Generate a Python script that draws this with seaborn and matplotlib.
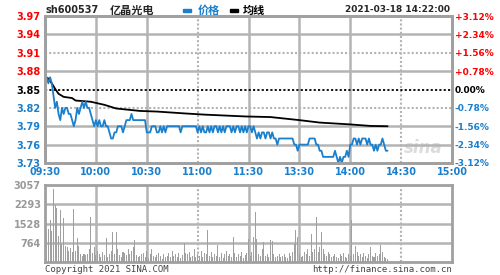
import matplotlib
matplotlib.use("Agg")
import matplotlib.pyplot as plt
import seaborn as sns
import numpy as np
import pandas as pd

# ---------------- data ----------------
code = "sh600537"
name = "亿晶光电"
stamp = "2021-03-18 14:22:00"
prev_close = 3.85

price = [
    3.87, 3.87, 3.86, 3.87, 3.86, 3.84, 3.82, 3.83, 3.81, 3.80,
    3.82, 3.81, 3.82, 3.82, 3.81, 3.81, 3.80, 3.79, 3.80, 3.82,
    3.81, 3.82, 3.83, 3.82, 3.83, 3.82, 3.82, 3.81, 3.80, 3.79,
    3.80, 3.79, 3.80, 3.79, 3.79, 3.80, 3.79, 3.79, 3.78, 3.77,
    3.77, 3.78, 3.78, 3.79, 3.79, 3.79, 3.78, 3.79, 3.80, 3.80,
    3.80, 3.81, 3.80, 3.80, 3.80, 3.80, 3.80, 3.80, 3.80, 3.80,
    3.78, 3.78, 3.78, 3.79, 3.79, 3.79, 3.78, 3.78, 3.79, 3.78,
    3.79, 3.78, 3.79, 3.79, 3.79, 3.79, 3.79, 3.79, 3.79, 3.79,
    3.78, 3.79, 3.79, 3.79, 3.79, 3.79, 3.79, 3.79, 3.79, 3.79,
    3.78, 3.79, 3.78, 3.79, 3.78, 3.78, 3.79, 3.78, 3.79, 3.78,
    3.79, 3.79, 3.78, 3.79, 3.78, 3.79, 3.78, 3.79, 3.79, 3.79,
    3.78, 3.79, 3.78, 3.79, 3.79, 3.78, 3.79, 3.78, 3.79, 3.78,
    3.79,
    3.79, 3.78, 3.79, 3.78, 3.77, 3.78, 3.77, 3.78, 3.78, 3.77,
    3.78, 3.78, 3.77, 3.78, 3.77, 3.77, 3.76, 3.77, 3.77, 3.77,
    3.77, 3.77, 3.77, 3.77, 3.77, 3.77, 3.76, 3.76, 3.75, 3.76,
    3.76, 3.76, 3.76, 3.76, 3.76, 3.77, 3.77, 3.77, 3.77, 3.76,
    3.76, 3.75, 3.75, 3.74, 3.74, 3.74, 3.74, 3.74, 3.74, 3.74,
    3.75, 3.74, 3.73, 3.74, 3.73, 3.74, 3.74, 3.75, 3.74, 3.76,
    3.76, 3.77, 3.77, 3.76, 3.77, 3.76, 3.77, 3.77, 3.77, 3.76,
    3.77, 3.76, 3.76, 3.75, 3.76, 3.75, 3.76, 3.76, 3.77, 3.76, 3.75, 3.75,
]

avg_minutes = [0, 2, 4, 6, 8, 11, 16, 18, 27, 35, 42, 56, 66, 82, 94, 118, 133, 150, 162, 180, 192, 202]
avg_values = [3.870, 3.868, 3.860, 3.851, 3.843, 3.838, 3.836, 3.832, 3.830, 3.825, 3.819,
              3.815, 3.814, 3.811, 3.809, 3.806, 3.805, 3.800, 3.796, 3.793, 3.7905, 3.790]

volume = [
    900, 1150, 1300, 1650, 1250, 2900, 2250, 2150, 1050, 2060,
    700, 1750, 650, 600, 420, 550, 380, 2090, 450, 940,
    620, 300, 250, 330, 280, 300, 500, 1770, 350, 600,
    280, 450, 320, 200, 380, 260, 940, 180, 300, 420,
    1200, 300, 1200, 520, 260, 180, 400, 350, 280, 500,
    330, 450, 600, 870, 260, 180, 220, 300, 350, 200,
    430, 150, 300, 500, 220, 180, 280, 350, 250, 130,
    300, 200, 250, 350, 180, 420, 250, 300, 200, 350,
    150, 280, 750, 350, 300, 400, 200, 250, 500, 200,
    300, 250, 450, 180, 350, 300, 1270, 250, 400, 180,
    300, 250, 680, 200, 350, 150, 300, 450, 250, 300,
    200, 1000, 350, 200, 300, 250, 400, 150, 280, 350,
    900,
    250, 400, 1000, 2000, 900, 300, 250, 500, 800, 250,
    300, 200, 870, 850, 300, 200, 250, 300, 180, 250,
    300, 200, 150, 350, 250, 400, 700, 1270, 1000, 300,
    200, 250, 400, 300, 500, 250, 1130, 400, 500, 1800,
    400, 600, 1200, 500, 300, 250, 400, 300, 200, 250,
    300, 200, 150, 300, 250, 350, 200, 150, 300, 250,
    1670, 300, 650, 400, 250, 300, 200, 350, 250, 150,
    300, 600, 250, 200, 350, 250, 300, 680, 400, 200, 150, 100,
]

time_labels = ["09:30", "10:00", "10:30", "11:00", "11:30", "13:30", "14:00", "14:30", "15:00"]
price_ticks = [3.97, 3.94, 3.91, 3.88, 3.85, 3.82, 3.79, 3.76, 3.73]
pct_labels = ["+3.12%", "+2.34%", "+1.56%", "+0.78%", "0.00%", "-0.78%", "-1.56%", "-2.34%", "-3.12%"]
vol_ticks = [764, 1528, 2293, 3057]

# ---------------- style ----------------
sns.set_style("white")
plt.rcParams["font.family"] = ["DejaVu Sans", "Noto Sans CJK SC"]

BLUE = "#1a7fcc"
RED = "#ff0000"
GRID = "#b4b4b4"
FRAME = "#a0a0a0"
VOLC = "#a0a0a0"

fig = plt.figure(figsize=(5, 2.75), dpi=100)
fig.patch.set_facecolor("white")

L, R = 45 / 500, 452 / 500
ax = fig.add_axes([L, 1 - 163 / 275, R - L, (163 - 16) / 275])
axv = fig.add_axes([L, 1 - 262 / 275, R - L, (262 - 185) / 275])

minutes = np.arange(len(price))
df = pd.DataFrame({"minute": minutes, "price": price, "volume": volume})
davg = pd.DataFrame({"minute": avg_minutes, "avg": avg_values})

xticks = np.arange(0, 241, 30)
dotted_x = [90, 210]

# price panel
for t in price_ticks[1:-1]:
    if abs(t - prev_close) < 1e-6:
        ax.axhline(t, color="black", lw=1.3, ls=(0, (1.2, 1.2)), zorder=2)
    elif abs(t - 3.91) < 1e-6 or abs(t - 3.82) < 1e-6:
        ax.axhline(t, color=GRID, lw=1.5, ls=(0, (1, 1)), zorder=1)
    else:
        ax.axhline(t, color=GRID, lw=1.8, zorder=1)
for x in xticks[1:-1]:
    if x in dotted_x:
        ax.axvline(x, color=GRID, lw=1.5, ls=(0, (1, 1)), zorder=1)
    else:
        ax.axvline(x, color=GRID, lw=1.8, zorder=1)

sns.lineplot(data=davg, x="minute", y="avg", ax=ax, color="black", lw=1.3, zorder=3)
sns.lineplot(data=df, x="minute", y="price", ax=ax, color=BLUE, lw=1.3, zorder=4)

ax.set_xlim(0, 240)
ax.set_ylim(3.73, 3.97)
ax.set_xlabel("")
ax.set_ylabel("")
ax.set_yticks(price_ticks)
ax.set_yticklabels([f"{t:.2f}" for t in price_ticks], fontsize=7, fontweight="bold")
for lab, t in zip(ax.get_yticklabels(), price_ticks):
    lab.set_color(RED if t > prev_close + 1e-6 else ("black" if abs(t - prev_close) < 1e-6 else BLUE))
ax.set_xticks(xticks)
ax.set_xticklabels(time_labels, fontsize=7, fontweight="bold", color=BLUE)
ax.tick_params(length=0, pad=3)

ax2 = ax.twinx()
ax2.set_ylim(3.73, 3.97)
ax2.set_yticks(price_ticks)
ax2.set_yticklabels(pct_labels, fontsize=6.5, fontweight="bold")
for lab, t in zip(ax2.get_yticklabels(), price_ticks):
    lab.set_color(RED if t > prev_close + 1e-6 else ("black" if abs(t - prev_close) < 1e-6 else BLUE))
ax2.tick_params(length=0, pad=2)

for a in (ax, ax2):
    for s in a.spines.values():
        s.set_color(FRAME)
        s.set_linewidth(2)

ax.text(0.93, 0.1, "sina", transform=ax.transAxes, fontsize=12, style="italic",
        fontweight="bold", color="#dcdcdc", ha="center", va="center", zorder=0)

# volume panel
for v in vol_ticks[:-1]:
    axv.axhline(v, color=GRID, lw=1.8, zorder=1)
for x in xticks[1:-1]:
    if x in dotted_x:
        axv.axvline(x, color=GRID, lw=1.5, ls=(0, (1, 1)), zorder=1)
    else:
        axv.axvline(x, color=GRID, lw=1.8, zorder=1)
sns.histplot(data=df, x="minute", weights="volume", discrete=True, ax=axv,
             color=VOLC, alpha=1, linewidth=0, shrink=0.6, zorder=2)
axv.set_xlim(0, 240)
axv.set_ylim(0, 3057)
axv.set_xlabel("")
axv.set_ylabel("")
axv.set_xticks([])
axv.set_yticks(vol_ticks)
axv.set_yticklabels([str(v) for v in vol_ticks], fontsize=7, fontweight="bold", color="#999999")
axv.tick_params(length=0, pad=3)
for s in axv.spines.values():
    s.set_color(FRAME)
    s.set_linewidth(2)

# header
fig.text(45 / 500, 1 - 10 / 275, code, fontsize=7, fontweight="bold", va="center", ha="left")
fig.text(132 / 500, 1 - 10 / 275, name, fontsize=8, fontweight="bold", va="center", ha="center",
         family=["Noto Sans CJK SC", "DejaVu Sans"])
fig.patches.append(plt.Rectangle((183 / 500, 1 - 11.5 / 275), 8 / 500, 3 / 275,
                                 transform=fig.transFigure, color=BLUE, figure=fig))
fig.text(198 / 500, 1 - 10 / 275, "价格", fontsize=8, fontweight="bold", color=BLUE, va="center",
         family=["Noto Sans CJK SC", "DejaVu Sans"])
fig.patches.append(plt.Rectangle((230 / 500, 1 - 11.5 / 275), 8 / 500, 3 / 275,
                                 transform=fig.transFigure, color="black", figure=fig))
fig.text(243 / 500, 1 - 10 / 275, "均线", fontsize=8, fontweight="bold", color="black", va="center",
         family=["Noto Sans CJK SC", "DejaVu Sans"])
fig.text(450 / 500, 1 - 10 / 275, stamp, fontsize=6.5, fontweight="bold", va="center", ha="right")

# footer
fig.text(45 / 500, 1 - 269 / 275, "Copyright 2021 SINA.COM", fontsize=6.5, color="#444444",
         va="center", ha="left", family="DejaVu Sans Mono")
fig.text(452 / 500, 1 - 269 / 275, "http://finance.sina.com.cn", fontsize=6.5, color="#444444",
         va="center", ha="right", family="DejaVu Sans Mono")

fig.savefig("out.png", dpi=100, facecolor="white")
